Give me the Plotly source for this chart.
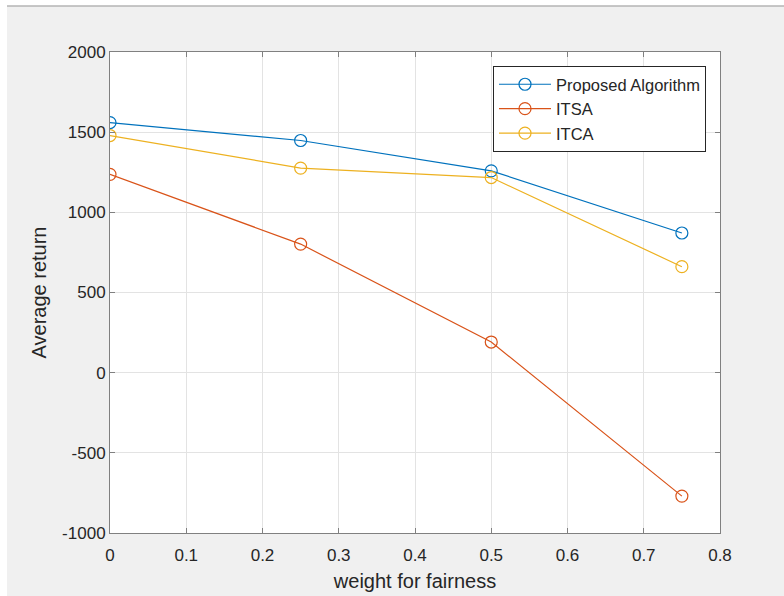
import plotly.graph_objects as go

weights = [0, 0.25, 0.5, 0.75]
proposed = [1560, 1448, 1259, 871]
itsa = [1237, 802, 191, -770]
itca = [1479, 1276, 1217, 661]

y_ticks = [-1000, -500, 0, 500, 1000, 1500, 2000]
y_tick_labels = ["-1000", "-500", "0", "500", "1000", "1500", "2000"]

series = [("Proposed Algorithm", proposed, "#0072BD"),
          ("ITSA", itsa, "#D95319"),
          ("ITCA", itca, "#EDB120")]

W, H = 784, 596
L, R, T, B = 110, 64, 52, 63
pw, ph = W - L - R, H - T - B

def px(x):
    return (x - L) / pw

def py(y):
    return (H - B - y) / ph

FONT = "Liberation Sans, Arial"

fig = go.Figure()
for name, vals, col in series:
    fig.add_trace(go.Scatter(
        x=weights, y=vals, name=name, mode="lines+markers",
        line=dict(color=col, width=1.2),
        marker=dict(symbol="circle-open", size=12, color=col, line=dict(width=1.2)),
    ))

axis_common = dict(
    showgrid=True, gridcolor="#e3e3e3", gridwidth=1,
    showline=True, linecolor="#808080", linewidth=1, mirror="ticks",
    ticks="inside", ticklen=5, tickcolor="#808080",
    zeroline=False,
    tickfont=dict(family=FONT, size=17, color="#262626"),
    title_font=dict(family=FONT, size=20, color="#262626"),
)

fig.update_xaxes(range=[0, 0.8], dtick=0.1, tick0=0, title_text="weight for fairness",
                 title_standoff=9, ticklabelstandoff=7, **axis_common)
fig.update_yaxes(range=[-1000, 2000], tickvals=y_ticks, ticktext=y_tick_labels,
                 title_text="Average return", title_standoff=10, **axis_common)

shapes = [
    dict(type="rect", xref="paper", yref="paper", x0=px(0), x1=px(W), y0=py(0), y1=py(6),
         fillcolor="white", line=dict(width=0), layer="below"),
    dict(type="rect", xref="paper", yref="paper", x0=px(0), x1=px(7), y0=py(H), y1=py(0),
         fillcolor="white", line=dict(width=0), layer="below"),
    dict(type="line", xref="paper", yref="paper", x0=px(7), x1=px(W), y0=py(6), y1=py(6),
         line=dict(color="#b4b4b4", width=1.5), layer="below"),
]

fig.update_layout(
    width=W, height=H,
    margin=dict(l=L, r=R, t=T, b=B, autoexpand=False),
    paper_bgcolor="#f0f0f0", plot_bgcolor="white",
    font=dict(family=FONT, color="#262626"),
    showlegend=True,
    legend=dict(x=px(706), y=py(66), xanchor="right", yanchor="top",
                bgcolor="white", bordercolor="#262626", borderwidth=1,
                font=dict(family=FONT, size=16.5, color="#262626"),
                tracegroupgap=0, itemwidth=52),
    shapes=shapes,
)

fig.write_html("out.html")
